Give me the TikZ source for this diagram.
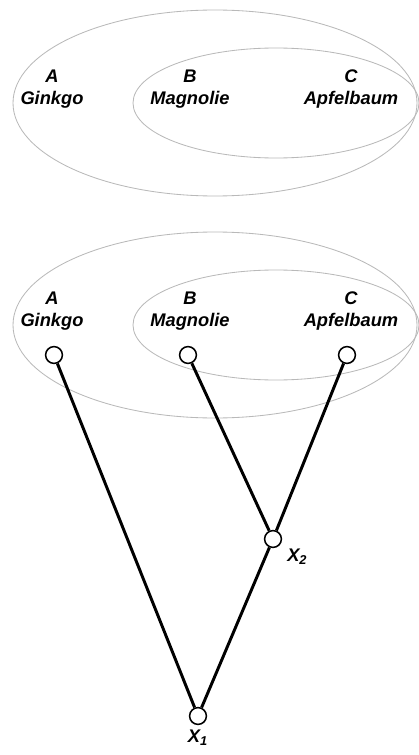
\documentclass[tikz,border=0pt]{standalone}
\usepackage{fontspec}
\setmainfont{Liberation Sans}
\usepackage{tikz}
\usetikzlibrary{positioning}

\begin{document}
\begin{tikzpicture}[
      x=0.025cm, y=-0.025cm,
      menge/.style={draw=gray!55, line width=0.6pt},
      art/.style={align=center, font=\fontsize{13}{15.6}\selectfont\bfseries\itshape},
      blatt/.style={draw, circle, fill=white, line width=1.1pt,
                    minimum size=0.42cm, inner sep=0pt},
      ast/.style={line width=2.1pt},
      marke/.style={font=\fontsize{13}{14}\selectfont\bfseries\itshape}
  ]
      \useasboundingbox (0,0) rectangle (419,755);

      % Mengen oben
      \draw[menge] (215,103) ellipse [x radius=202, y radius=93];
      \draw[menge] (276,103) ellipse [x radius=143, y radius=55];
      \node[art] (ta) at (52,89)  {A\\Ginkgo};
      \node[art] (tb) at (190,89) {B\\Magnolie};
      \node[art] (tc) at (351,89) {C\\Apfelbaum};

      % Mengen unten
      \draw[menge] (215,325) ellipse [x radius=202, y radius=93];
      \draw[menge] (276,325) ellipse [x radius=143, y radius=55];
      \node[art] (ua) at (52,311)  {A\\Ginkgo};
      \node[art] (ub) at (190,311) {B\\Magnolie};
      \node[art] (uc) at (351,311) {C\\Apfelbaum};

      % Baum
      \node[blatt] (a)  at (54,355)  {};
      \node[blatt] (b)  at (188,355) {};
      \node[blatt] (c)  at (347,355) {};
      \node[blatt] (x2) at (273,539) {};
      \node[blatt] (x1) at (198,716) {};

      \draw[ast] (a) -- (x1);
      \draw[ast] (b) -- (x2);
      \draw[ast] (c) -- (x2);
      \draw[ast] (x2) -- (x1);

      \node[marke, below right=-1pt and 2pt of x2] {X\textsubscript{2}};
      \node[marke, below=0pt of x1] {X\textsubscript{1}};
  \end{tikzpicture}
\end{document}
